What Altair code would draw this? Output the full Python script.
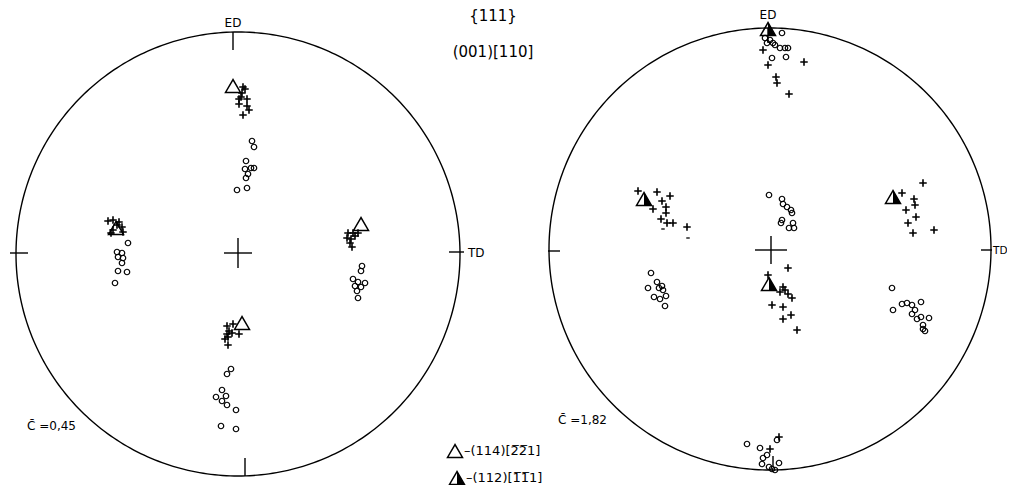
import altair as alt
import numpy as np
import pandas as pd

# ---------------- data (projection units, radius ~222, origin = centre of each pole figure)
R_LEFT = 222
R_RIGHT = 221
PANEL_OFFSET = {"left": (0, 0), "right": (532, 5)}

# left pole figure  (C = 0,45)
LEFT_CIRCLE_X = [14, 16, 8, 7, 13, 16, 10, 8, -1, 9,
                 -110, -121, -116, -120, -115, -116, -120, -111, -123,
                 124, 123, 115, 120, 127, 117, 123, 119, 120,
                 -7, -11, -16, -22, -12, -16, -11, -2, -17, -2]
LEFT_CIRCLE_Y = [113, 107, 93, 85, 86, 86, 80, 76, 64, 66,
                 11, 2, 1, -3, -4, -9, -17, -18, -29,
                 -12, -17, -25, -28, -29, -32, -33, -37, -44,
                 -115, -120, -136, -143, -142, -147, -151, -156, -172, -175]
LEFT_CROSS_X = [5, 7, 4, 3, 1, 9, 1, 9, 11, 5,
                -130, -125, -119, -121, -116, -125, -115, -127,
                110, 115, 120, 117, 109, 113, 112, 114,
                -11, -5, -9, -6, -11, -13, -10, 1, -10]
LEFT_CROSS_Y = [167, 165, 161, 157, 155, 155, 150, 148, 144, 139,
                33, 34, 32, 29, 27, 24, 22, 21,
                21, 21, 21, 18, 16, 15, 11, 7,
                -72, -70, -77, -79, -80, -85, -83, -80, -91]
LEFT_TRI_X = [-5, -122, 123, 4]
LEFT_TRI_Y = [168, 26, 30, -69]

# right pole figure  (C = 1,82)
RIGHT_CIRCLE_X = [12, -5, 0, 3, -3, 5, 10, 15, 18, 2, 16,
                  -1, 12, 13, 17, 21, 22, 12, 11, 23, 19, 24,
                  -119, -113, -122, -108, -107, -116, -110, -104, -105, -111,
                  122, 123, 132, 137, 142, 151, 145, 142, 151, 159, 147, 153, 155, 153,
                  -23, -10, -3, -7, -8, -1, 5, 9, 7, 2]
RIGHT_CIRCLE_Y = [216, 211, 209, 206, 206, 204, 201, 201, 201, 191, 192,
                  54, 50, 45, 42, 39, 36, 29, 26, 26, 21, 21,
                  -24, -33, -39, -37, -41, -48, -50, -47, -57, -39,
                  -39, -61, -55, -54, -56, -53, -61, -65, -68, -69, -70, -76, -82, -80,
                  -195, -199, -206, -209, -215, -218, -221, -214, -191, -220]
RIGHT_CROSS_X = [-7, -2, 34, 6, 7, 19,
                 -132, -113, -100, -108, -104, -104, -117, -109, -103, -97, -83,
                 153, 132, 144, 145, 136, 146, 138, 164, 143,
                 18, -2, 13, 15, 10, 18, 22, 2, 13, 21, 13, 27,
                 9, 0]
RIGHT_CROSS_Y = [199, 184, 187, 172, 166, 155,
                 58, 57, 53, 48, 42, 36, 40, 30, 26, 26, 22,
                 66, 56, 50, 44, 39, 32, 26, 19, 16,
                 -19, -26, -38, -41, -43, -45, -49, -56, -58, -66, -70, -81,
                 -188, -200]
RIGHT_DASH_X = [-107, -82]
RIGHT_DASH_Y = [20, 11]
RIGHT_TRI_X = [-2, -126, 123, -1]
RIGHT_TRI_Y = [220, 50, 52, -35]

# axis ticks and centre crosses: (panel, x1, y1, x2, y2)
SEGMENTS = [
    ("left", -5, 222, -5, 204), ("left", 7, -222, 7, -204),
    ("left", -228, 1, -210, 1), ("left", 211, 2, 226, 2),
    ("left", -14, 1, 14, 1), ("left", 0, -14, 0, 16),
    ("right", -222, -2, -210, -2), ("right", 211, -1, 222, -1),
    ("right", 3, -207, 3, -218), ("right", -2, 221, -2, 206),
    ("right", -15, -1, 17, -1), ("right", 1, -15, 1, 13),
]

# ---------------- build tables
def pts(panel, xs, ys, kind):
    ox, oy = PANEL_OFFSET[panel]
    return pd.DataFrame({"gx": np.array(xs) + ox, "gy": np.array(ys) + oy,
                         "kind": kind, "panel": panel})

points = pd.concat([
    pts("left", LEFT_CIRCLE_X, LEFT_CIRCLE_Y, "circle"),
    pts("left", LEFT_CROSS_X, LEFT_CROSS_Y, "cross"),
    pts("left", LEFT_TRI_X, LEFT_TRI_Y, "tri_open"),
    pts("right", RIGHT_CIRCLE_X, RIGHT_CIRCLE_Y, "circle"),
    pts("right", RIGHT_CROSS_X, RIGHT_CROSS_Y, "cross"),
    pts("right", RIGHT_DASH_X, RIGHT_DASH_Y, "dash"),
    pts("right", RIGHT_TRI_X, RIGHT_TRI_Y, "tri_half"),
], ignore_index=True)

theta = np.linspace(0, 2 * np.pi, 361)
outline = []
for panel, r in (("left", R_LEFT), ("right", R_RIGHT)):
    ox, oy = PANEL_OFFSET[panel]
    outline.append(pd.DataFrame({"gx": ox + r * np.cos(theta), "gy": oy + r * np.sin(theta),
                                 "i": np.arange(361), "panel": panel}))
outline = pd.concat(outline, ignore_index=True)

segs = pd.DataFrame([
    {"gx": x1 + PANEL_OFFSET[p][0], "gy": y1 + PANEL_OFFSET[p][1],
     "gx2": x2 + PANEL_OFFSET[p][0], "gy2": y2 + PANEL_OFFSET[p][1]}
    for p, x1, y1, x2, y2 in SEGMENTS])

X = alt.X("gx:Q", scale=alt.Scale(domain=[-230, 769], nice=False, zero=False), axis=None)
Y = alt.Y("gy:Q", scale=alt.Scale(domain=[-231, 246], nice=False, zero=False), axis=None)

TRI = "M0,-0.866L-1,0.866L1,0.866Z"
TRI_HALF = "M0,-0.866L0,0.866L1,0.866Z"
CROSS = "M-1,0H1M0,-1V1"
DASH = "M-1,0H1"

circle_line = alt.Chart(outline).mark_line(color="black", strokeWidth=1.4).encode(
    x=X, y=Y, detail="panel:N", order="i:Q")
rules = alt.Chart(segs).mark_rule(color="black", strokeWidth=1.4).encode(
    x=X, y=Y, x2="gx2:Q", y2="gy2:Q")

def layer(kind, **mk):
    return alt.Chart(points).transform_filter(alt.datum.kind == kind).mark_point(
        color="black", opacity=1, **mk).encode(x=X, y=Y)

circ = layer("circle", shape="circle", filled=False, size=30, strokeWidth=1.2)
cross = layer("cross", shape=CROSS, filled=False, size=56, strokeWidth=1.6)
dash = layer("dash", shape=DASH, filled=False, size=12, strokeWidth=1.3)
tri_o = layer("tri_open", shape=TRI, filled=False, size=225, strokeWidth=1.5)
tri_h_o = layer("tri_half", shape=TRI, filled=False, size=225, strokeWidth=1.5)
tri_h_f = layer("tri_half", shape=TRI_HALF, filled=True, size=225, strokeWidth=0.5)

FONT = "DejaVu Sans"
anchor = pd.DataFrame({"k": [0]})

def txt(s, x, y, size=12, align="center"):
    return alt.Chart(anchor).mark_text(text=s, font=FONT, fontSize=size, align=align,
                                       baseline="middle", color="black").encode(
        x=alt.value(x), y=alt.value(y))

def sym(shape, x, y, filled):
    return alt.Chart(anchor).mark_point(shape=shape, filled=filled, size=225, color="black",
                                        opacity=1, strokeWidth=1.5).encode(
        x=alt.value(x), y=alt.value(y))

texts = [
    txt("ED", 225, 15, 12), txt("ED", 760, 7, 12),
    txt("TD", 460, 245, 12, "left"), txt("TD", 985, 243, 10.5, "left"),
    txt("{111}", 485, 8, 15), txt("(001)[110]", 485, 44, 15),
    txt("C\u0304 =0,45", 19, 418, 12, "left"), txt("C\u0304 =1,82", 550, 412, 12, "left"),
    txt("\u2013(114)[2\u03052\u03051]", 456, 443, 13, "left"),
    txt("\u2013(112)[1\u03051\u03051]", 458, 470, 13, "left"),
    sym(TRI, 447, 443, False), sym(TRI, 449, 470, False), sym(TRI_HALF, 449, 470, True),
]

chart = alt.layer(circle_line, rules, circ, cross, dash, tri_o, tri_h_o, tri_h_f, *texts).properties(
    width=999, height=477, padding=0, autosize=alt.AutoSizeParams(type="none"),
    background="white"
).configure_view(stroke=None)

chart.save("out.html", embed_options={"renderer": "svg", "actions": False})
